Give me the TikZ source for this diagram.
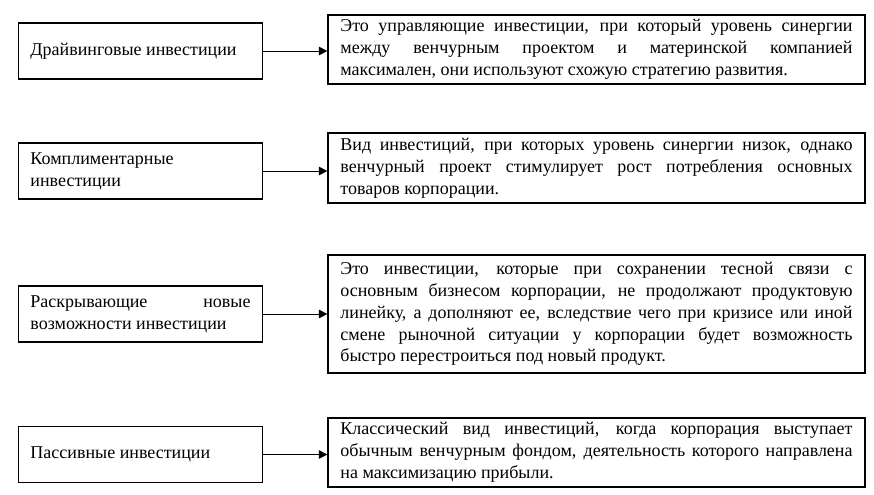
\documentclass[tikz,border=0pt]{standalone}
\usepackage{fontspec}
\setmainfont{Liberation Serif}
\usetikzlibrary{arrows.meta}
\tikzset{
  kind/.style={draw,line width=1.2pt,text width=5.5cm,inner xsep=0.3cm,minimum height=1.4cm,align=justify,font=\fontsize{12.8}{15.5}\selectfont},
  info/.style={draw,line width=1.5pt,text width=12.8cm,inner xsep=0.3cm,align=justify,font=\fontsize{12.8}{15.5}\selectfont},
  arr/.style={-{Triangle[length=6pt,width=6pt]},line width=0.7pt}
}
\begin{document}
\begin{tikzpicture}[x=0.025cm,y=-0.025cm]
\useasboundingbox (0,0) rectangle (874,494);
\node[kind] (drv) at (140.5,51) {Драйвинговые инвестиции};
\node[info,minimum height=1.725cm] (drvtxt) at (596.5,49.5) {Это управляющие инвестиции, при который уровень синергии\linebreak между венчурным проектом и материнской компанией\linebreak максимален, они используют схожую стратегию развития.};
\node[kind] (cmp) at (140.5,171) {Комплиментарные\newline инвестиции};
\node[info,minimum height=1.75cm] (cmptxt) at (596.5,168) {Вид инвестиций, при которых уровень синергии низок, однако\linebreak венчурный проект стимулирует рост потребления основных\linebreak товаров корпорации.};
\node[kind] (rsk) at (140.5,314) {Раскрывающие новые\linebreak возможности инвестиции};
\node[info,minimum height=2.95cm] (rsktxt) at (596.5,314) {Это инвестиции, которые при сохранении тесной связи с\linebreak основным бизнесом корпорации, не продолжают продуктовую\linebreak линейку, а дополняют ее, вследствие чего при кризисе или иной\linebreak смене рыночной ситуации у корпорации будет возможность\linebreak быстро перестроиться под новый продукт.};
\node[kind] (pas) at (140.5,454.5) {Пассивные инвестиции};
\node[info,minimum height=1.725cm] (pastxt) at (596.5,452.5) {Классический вид инвестиций, когда корпорация выступает\linebreak обычным венчурным фондом, деятельность которого направлена\linebreak на максимизацию прибыли.};
\draw[arr] (drv.east) -- (drv.east -| drvtxt.west);
\draw[arr] (cmp.east) -- (cmp.east -| cmptxt.west);
\draw[arr] (rsk.east) -- (rsk.east -| rsktxt.west);
\draw[arr] (pas.east) -- (pas.east -| pastxt.west);
\end{tikzpicture}
\end{document}
